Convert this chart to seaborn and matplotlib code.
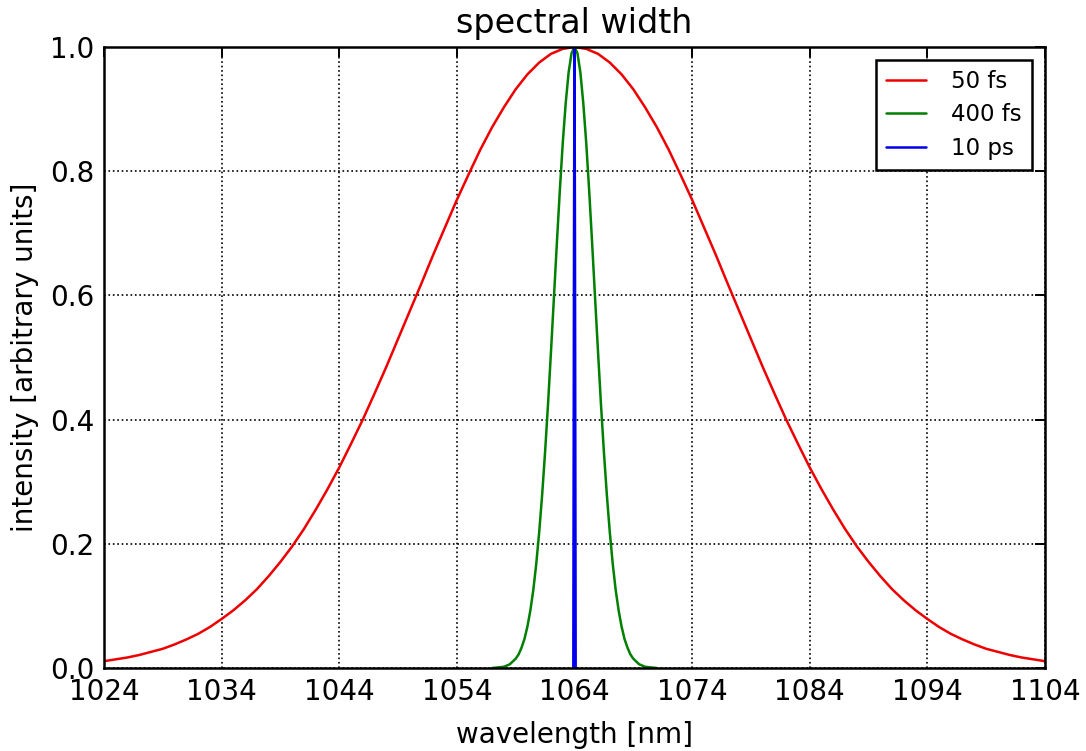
import numpy as np
import pandas as pd
import seaborn as sns
import matplotlib
matplotlib.use("Agg")
import matplotlib.pyplot as plt

# values
wl_50fs = list(range(1024, 1105))
int_50fs = [0.011, 0.014, 0.017, 0.021, 0.026, 0.031, 0.038, 0.046, 0.055, 0.066,
            0.079, 0.093, 0.109, 0.127, 0.148, 0.171, 0.196, 0.224, 0.255, 0.288,
            0.323, 0.361, 0.400, 0.442, 0.485, 0.530, 0.575, 0.620, 0.666, 0.710,
            0.754, 0.795, 0.835, 0.871, 0.903, 0.932, 0.956, 0.975, 0.989, 0.997,
            1.000,
            0.997, 0.989, 0.975, 0.956, 0.932, 0.903, 0.871, 0.835, 0.795, 0.754,
            0.710, 0.666, 0.620, 0.575, 0.530, 0.485, 0.442, 0.400, 0.361, 0.323,
            0.288, 0.255, 0.224, 0.196, 0.171, 0.148, 0.127, 0.109, 0.093, 0.079,
            0.066, 0.055, 0.046, 0.038, 0.031, 0.026, 0.021, 0.017, 0.014, 0.011]

wl_400fs = [1057.0, 1057.5, 1058.0, 1058.5, 1059.0, 1059.25, 1059.5, 1059.75,
            1060.0, 1060.25, 1060.5, 1060.75, 1061.0, 1061.25, 1061.5, 1061.75,
            1062.0, 1062.25, 1062.5, 1062.75, 1063.0, 1063.25, 1063.5, 1063.75,
            1064.0,
            1064.25, 1064.5, 1064.75, 1065.0, 1065.25, 1065.5, 1065.75, 1066.0,
            1066.25, 1066.5, 1066.75, 1067.0, 1067.25, 1067.5, 1067.75, 1068.0,
            1068.25, 1068.5, 1068.75, 1069.0, 1069.5, 1070.0, 1070.5, 1071.0]
int_400fs = [0.000, 0.001, 0.002, 0.006, 0.015, 0.022, 0.033, 0.047,
             0.067, 0.093, 0.126, 0.168, 0.219, 0.279, 0.348, 0.425,
             0.509, 0.596, 0.684, 0.768, 0.845, 0.909, 0.959, 0.990,
             1.000,
             0.990, 0.959, 0.909, 0.845, 0.768, 0.684, 0.596, 0.509,
             0.425, 0.348, 0.279, 0.219, 0.168, 0.126, 0.093, 0.067,
             0.047, 0.033, 0.022, 0.015, 0.006, 0.002, 0.001, 0.000]

wl_10ps = [1063.9, 1063.96, 1064.0, 1064.04, 1064.1]
int_10ps = [0.0, 0.7, 1.0, 0.7, 0.0]

labels = ["50 fs", "400 fs", "10 ps"]
colors = ["#ee0000", "#008000", "#0000ee"]

df = pd.concat([
    pd.DataFrame({"wavelength": wl_50fs, "intensity": int_50fs, "pulse": labels[0]}),
    pd.DataFrame({"wavelength": wl_400fs, "intensity": int_400fs, "pulse": labels[1]}),
    pd.DataFrame({"wavelength": wl_10ps, "intensity": int_10ps, "pulse": labels[2]}),
])

sns.set_style("white", {"text.color": "black", "axes.labelcolor": "black",
                        "xtick.color": "black", "ytick.color": "black"})
plt.rcParams["font.family"] = ["DejaVu Sans"]

fig = plt.figure(figsize=(10.86, 7.51), dpi=100)
ax = fig.add_axes([0.0958, 0.1105, 0.8664, 0.8269])

sns.lineplot(data=df, x="wavelength", y="intensity", hue="pulse", hue_order=labels,
             palette=dict(zip(labels, colors)), linewidth=1.8, sort=False,
             estimator=None, ax=ax)

ax.set_xlim(1024, 1104)
ax.set_ylim(0, 1.0)
ax.set_xticks(np.arange(1024, 1105, 10))
ax.set_yticks([0.0, 0.2, 0.4, 0.6, 0.8, 1.0])
ax.set_yticklabels(["0.0", "0.2", "0.4", "0.6", "0.8", "1.0"])
ax.grid(True, color="black", linestyle=":", linewidth=1.2)
ax.tick_params(direction="in", length=7, width=1.4, labelsize=20, pad=7,
               top=True, right=True, colors="black")
for s in ax.spines.values():
    s.set_linewidth(1.8)
    s.set_color("black")

ax.set_title("spectral width", fontsize=24, pad=10, color="black")
ax.set_xlabel("wavelength [nm]", fontsize=20, labelpad=11)
ax.set_ylabel("intensity [arbitrary units]", fontsize=20, labelpad=8)

leg = ax.legend(loc="upper right", fontsize=16.5, fancybox=False, framealpha=1,
                borderaxespad=0.55, handlelength=1.75, handletextpad=1.1,
                borderpad=0.45, labelspacing=0.45)
leg.get_frame().set_edgecolor("black")
leg.get_frame().set_linewidth(1.8)
for line in leg.get_lines():
    line.set_linewidth(1.8)

fig.savefig("out.png", dpi=100)
